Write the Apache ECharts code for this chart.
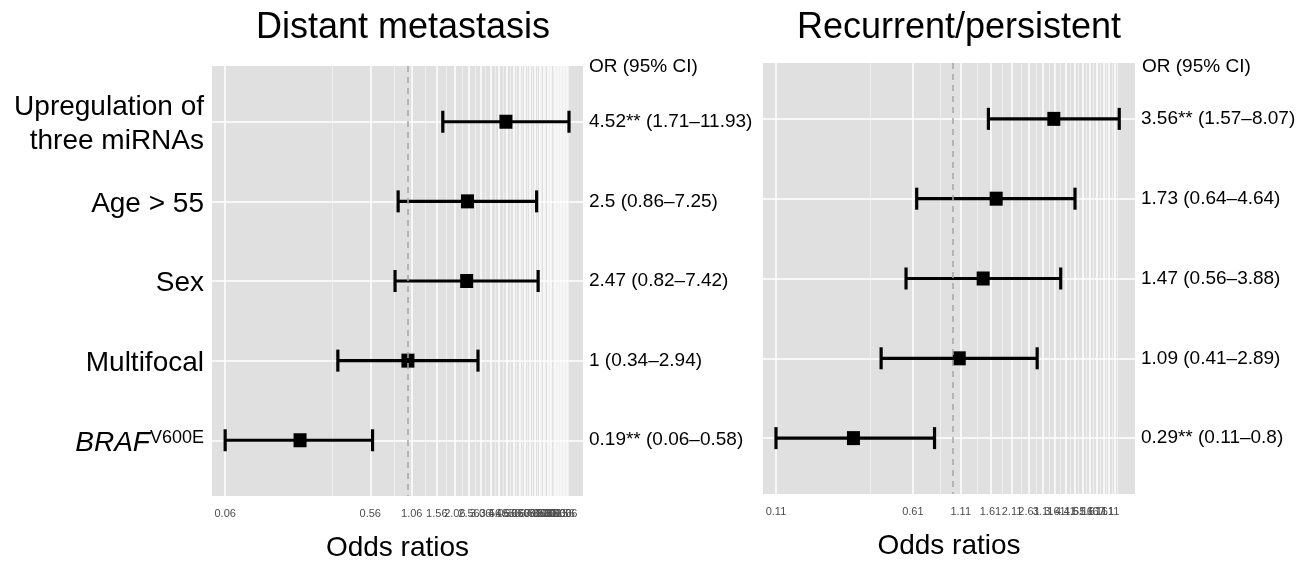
<!DOCTYPE html>
<html>
<head>
<meta charset="utf-8">
<script src="https://cdn.jsdelivr.net/npm/echarts@6/dist/echarts.min.js"></script>
<style>
html, body { margin: 0; padding: 0; background: #fff; }
#chart { width: 1308px; height: 563px; }
</style>
</head>
<body>
<div id="chart"></div>
<script>
// rows, top to bottom
const categories = ['Upregulation of\nthree miRNAs', 'Age > 55', 'Sex', 'Multifocal', 'BRAF^V600E'];

// distant metastasis
const dmOR = [4.52, 2.5, 2.47, 1, 0.19];
const dmLow = [1.71, 0.86, 0.82, 0.34, 0.06];
const dmHigh = [11.93, 7.25, 7.42, 2.94, 0.58];
const dmSig = ['**', '', '', '', '**'];

// recurrent/persistent
const rpOR = [3.56, 1.73, 1.47, 1.09, 0.29];
const rpLow = [1.57, 0.64, 0.56, 0.41, 0.11];
const rpHigh = [8.07, 4.64, 3.88, 2.89, 0.8];
const rpSig = ['**', '', '', '', '**'];

// x axis breaks
const dmTicks = [0.06, 0.56, 1.06, 1.56, 2.06, 2.56, 3.06, 3.56, 4.06, 4.56, 5.06, 5.56,
  6.06, 6.56, 7.06, 7.56, 8.06, 8.56, 9.06, 9.56, 10.06, 10.56, 11.06, 11.56];
const dmMinor = [0.31, 0.81, 1.31, 1.81, 2.31, 2.81, 3.31, 3.81, 4.31, 4.81, 5.31, 5.81,
  6.31, 6.81, 7.31, 7.81, 8.31, 8.81, 9.31, 9.81, 10.31, 10.81, 11.31, 11.81];
const rpTicks = [0.11, 0.61, 1.11, 1.61, 2.11, 2.61, 3.11, 3.61, 4.11, 4.61, 5.11, 5.61,
  6.11, 6.61, 7.11, 7.61];
const rpMinor = [0.36, 0.86, 1.36, 1.86, 2.36, 2.86, 3.36, 3.86, 4.36, 4.86, 5.36, 5.86,
  6.36, 6.86, 7.36, 7.86];

const rows = categories.map((c, i) => i);
const FONT = '"Liberation Sans", Arial, sans-serif';

function orText(or, lo, hi, sig) {
  return or.map((v, i) => v + sig[i] + ' (' + lo[i] + '\u2013' + hi[i] + ')');
}
const dmText = orText(dmOR, dmLow, dmHigh, dmSig);
const rpText = orText(rpOR, rpLow, rpHigh, rpSig);

function fmtTick(v) {
  return String(Number(Number(v).toFixed(2)));
}

function nameLabel(v) {
  const name = categories[Math.round(v)];
  if (name === undefined) return '';
  if (name.indexOf('^') >= 0) {
    const parts = name.split('^');
    return '{i|' + parts[0] + '}{s|' + parts[1] + '}';
  }
  return name;
}

function xAxes(gridIndex, min, max, ticks, minor) {
  return [{
    type: 'log', gridIndex: gridIndex, min: min, max: max, logBase: 10,
    axisLine: { show: false },
    axisTick: { show: false, customValues: ticks },
    axisLabel: {
      customValues: ticks, formatter: fmtTick, hideOverlap: false,
      fontSize: 11, fontFamily: FONT, color: '#4d4d4d', margin: 12
    },
    splitLine: { show: true, lineStyle: { color: '#ffffff', width: 1.5 } },
    name: 'Odds ratios', nameLocation: 'middle', nameGap: 38,
    nameTextStyle: { fontSize: 28, fontFamily: FONT, color: '#000' }
  }, {
    type: 'log', gridIndex: gridIndex, min: min, max: max, logBase: 10,
    axisLine: { show: false },
    axisTick: { show: false, customValues: minor },
    axisLabel: { show: false, customValues: minor },
    splitLine: { show: true, lineStyle: { color: '#f2f2f2', width: 0.8 } }
  }];
}

function yAxes(gridIndex, showNames, orLabels) {
  return [{
    type: 'value', gridIndex: gridIndex, inverse: true, min: -0.7, max: 4.7,
    axisLine: { show: false },
    axisTick: { show: false, customValues: rows },
    splitLine: { show: true, lineStyle: { color: '#ffffff', width: 1.5 } },
    axisLabel: {
      show: showNames, customValues: rows, formatter: nameLabel,
      fontSize: 28, fontFamily: FONT, color: '#000', margin: 8,
      lineHeight: 34, align: 'right', padding: [5, 0, 0, 0],
      rich: {
        i: { fontSize: 28, lineHeight: 30, fontStyle: 'italic', fontFamily: FONT, color: '#000' },
        s: { fontSize: 18, fontFamily: FONT, color: '#000', verticalAlign: 'top', padding: [3, 0, 0, 0] }
      }
    }
  }, {
    type: 'value', gridIndex: gridIndex, inverse: true, min: -0.7, max: 4.7,
    position: 'right',
    axisLine: { show: false },
    axisTick: { show: false, customValues: rows },
    splitLine: { show: false },
    axisLabel: {
      customValues: rows, formatter: v => orLabels[Math.round(v)] || '',
      fontSize: 19, fontFamily: FONT, color: '#000', margin: 6, align: 'left'
    }
  }];
}

function errorBar(params, api) {
  const y = api.value(2);
  const p0 = api.coord([api.value(0), y]);
  const p1 = api.coord([api.value(1), y]);
  const h = 11;
  const style = { stroke: '#000', lineWidth: 3.2 };
  return {
    type: 'group',
    children: [
      { type: 'line', shape: { x1: p0[0], y1: p0[1], x2: p1[0], y2: p1[1] }, style: style },
      { type: 'line', shape: { x1: p0[0], y1: p0[1] - h, x2: p0[0], y2: p0[1] + h }, style: style },
      { type: 'line', shape: { x1: p1[0], y1: p1[1] - h, x2: p1[0], y2: p1[1] + h }, style: style }
    ]
  };
}

function panelSeries(xIndex, yIndex, or, lo, hi) {
  return [{
    type: 'custom', xAxisIndex: xIndex, yAxisIndex: yIndex,
    renderItem: errorBar, encode: { x: [0, 1], y: 2 },
    data: rows.map(i => [lo[i], hi[i], i]), z: 3
  }, {
    type: 'scatter', xAxisIndex: xIndex, yAxisIndex: yIndex,
    symbol: 'rect', symbolSize: [13, 14], itemStyle: { color: '#000', opacity: 1 },
    data: rows.map(i => [or[i], i]), z: 4,
    markLine: {
      silent: true, symbol: 'none', label: { show: false },
      lineStyle: { color: '#a6a6a6', type: [6, 5], width: 1.5 },
      data: [{ xAxis: 1 }]
    }
  }];
}

const myChart = echarts.init(document.getElementById('chart'));
myChart.setOption({
  animation: false,
  backgroundColor: '#fff',
  grid: [
    { left: 212, right: 725, top: 66, bottom: 67, show: true, backgroundColor: '#e0e0e0', borderWidth: 0, outerBoundsMode: 'none', containLabel: false },
    { left: 763, right: 173, top: 63, bottom: 69, show: true, backgroundColor: '#e0e0e0', borderWidth: 0, outerBoundsMode: 'none', containLabel: false }
  ],
  xAxis: [].concat(
    xAxes(0, 0.049, 14.8, dmTicks, dmMinor),
    xAxes(1, 0.0935, 9.83, rpTicks, rpMinor)
  ),
  yAxis: [].concat(
    yAxes(0, true, dmText),
    yAxes(1, false, rpText)
  ),
  series: [].concat(
    panelSeries(0, 0, dmOR, dmLow, dmHigh),
    panelSeries(2, 2, rpOR, rpLow, rpHigh)
  ),
  graphic: [
    { type: 'text', x: 403, y: 28, style: { text: 'Distant metastasis', fontSize: 36, fontFamily: FONT, fill: '#000', align: 'center', verticalAlign: 'middle' } },
    { type: 'text', x: 959, y: 28, style: { text: 'Recurrent/persistent', fontSize: 36, fontFamily: FONT, fill: '#000', align: 'center', verticalAlign: 'middle' } },
    { type: 'text', x: 589, y: 67, style: { text: 'OR (95% CI)', fontSize: 19, fontFamily: FONT, fill: '#000', align: 'left', verticalAlign: 'middle' } },
    { type: 'text', x: 1142, y: 67, style: { text: 'OR (95% CI)', fontSize: 19, fontFamily: FONT, fill: '#000', align: 'left', verticalAlign: 'middle' } }
  ]
});
</script>
</body>
</html>
